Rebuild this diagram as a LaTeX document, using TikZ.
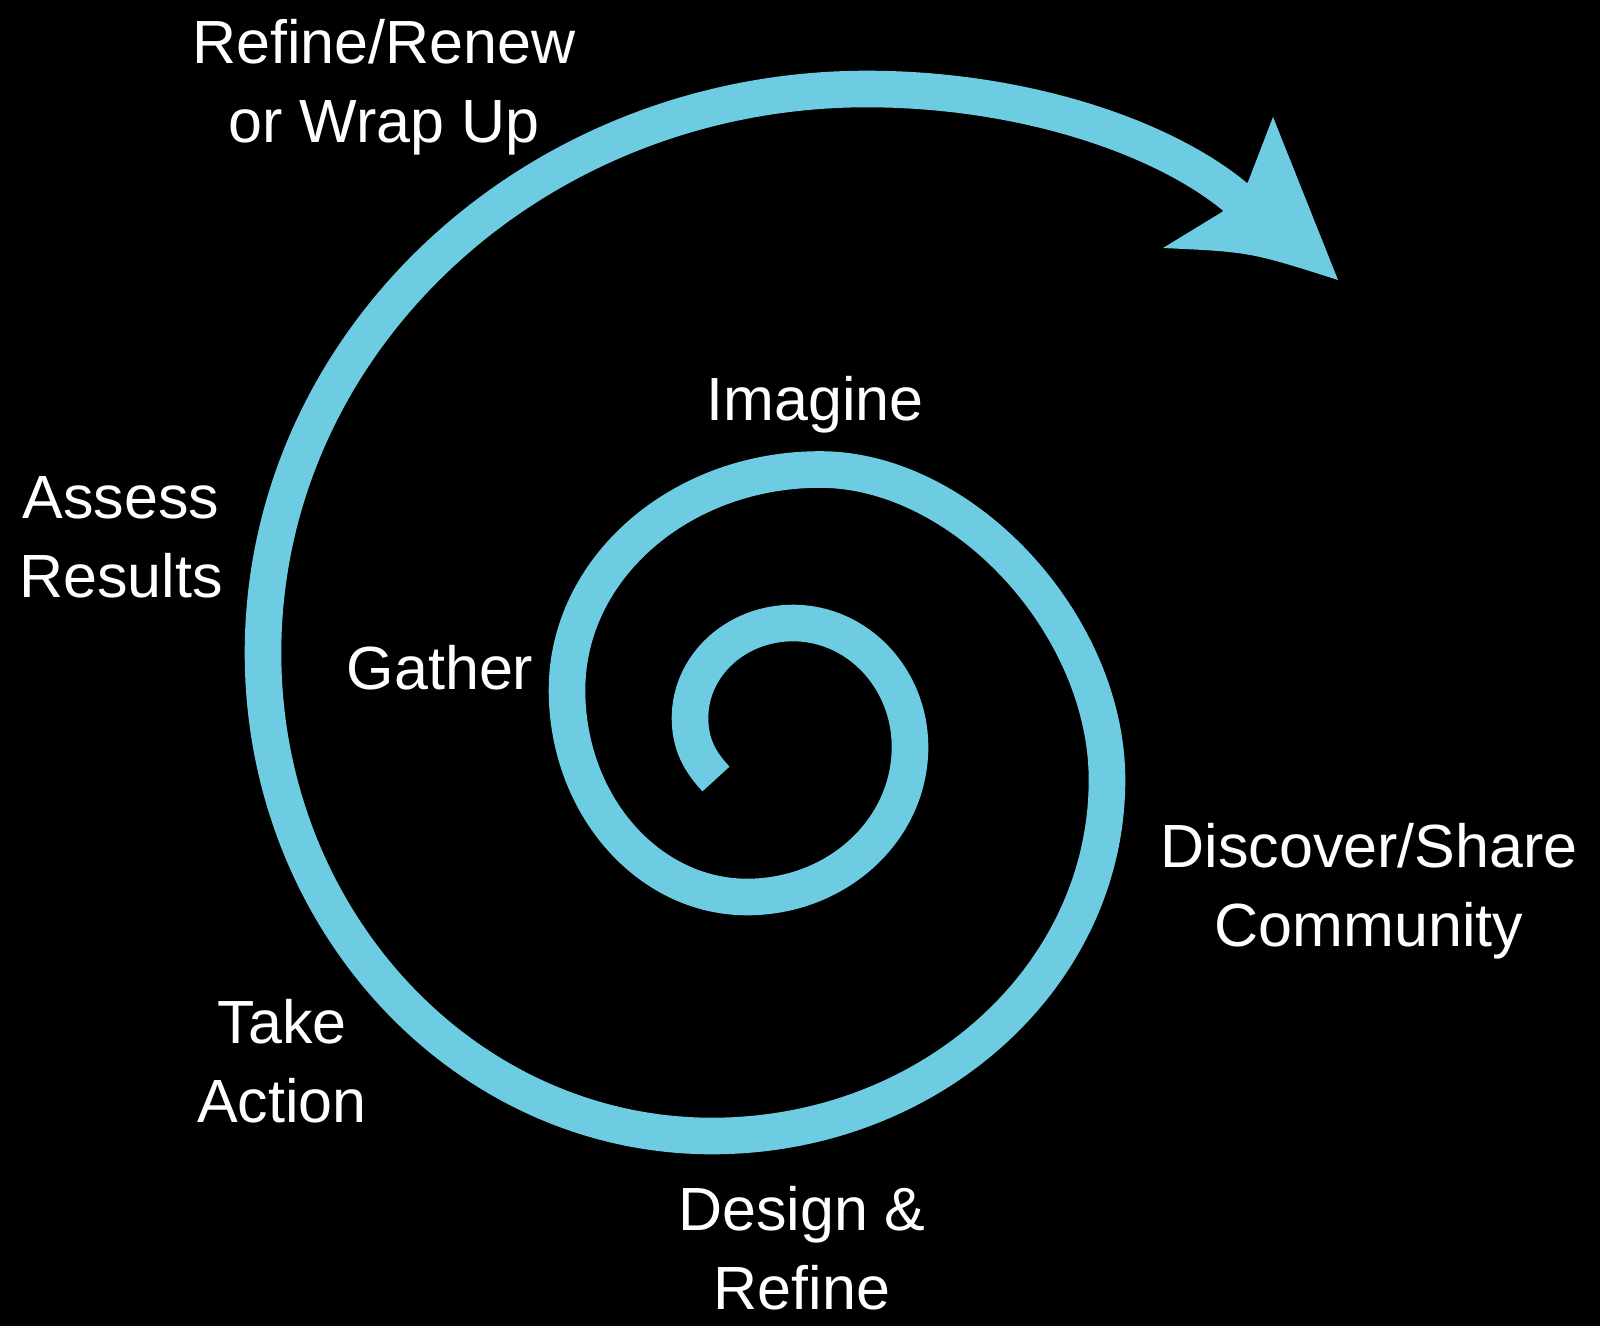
\documentclass[tikz,border=0pt]{standalone}
\usepackage{fontspec}
\setmainfont{Liberation Sans}
\definecolor{spiralblue}{RGB}{110,204,226}
\begin{document}
\begin{tikzpicture}[x=0.5pt,y=-0.5pt,
  stagelabel/.style={text=white, font=\fontsize{30.5}{39.5}\selectfont,
    align=center, inner sep=0pt, anchor=base},
  band/.style={draw=spiralblue, line width=18.3pt, line cap=butt, line join=round}]
% backdrop
\fill[black] (0,0) rectangle (1600,1326);
\useasboundingbox (0,0) rectangle (1600,1326);

% spiral, from the inner end outwards (clockwise)
\coordinate (s0) at (716,779);
\coordinate (l1) at (690,718);
\coordinate (t1) at (793,623);
\coordinate (r1) at (910,747);
\coordinate (b1) at (747,897);
\coordinate (l2) at (567,690);
\coordinate (t2) at (820,469.5);
\coordinate (r2) at (1107,780);
\coordinate (b2) at (712,1136);
\coordinate (l3) at (263,653);
\coordinate (t3) at (867,89);
\coordinate (e)  at (1240,201);
\draw[band] (s0) .. controls (699,761) and (690,743) .. (l1)
  .. controls (690,665.5) and (736,623) .. (t1)
  .. controls (857.6,623) and (910,678.5) .. (r1)
  .. controls (910,830) and (837,897) .. (b1)
  .. controls (648,897) and (567,804.6) .. (l2)
  .. controls (567,568.2) and (680.3,469.5) .. (t2)
  .. controls (963.5,469.5) and (1107,624.8) .. (r2)
  .. controls (1107,976.6) and (930.2,1136) .. (b2)
  .. controls (464,1136) and (263,919.8) .. (l3)
  .. controls (263,341.5) and (533.4,89) .. (t3)
  .. controls (1020,89) and (1165,136) .. (e);

% arrowhead
\coordinate (hn1) at (1248,182);
\coordinate (htop) at (1273,117);
\coordinate (htip) at (1338,280);
\coordinate (hleft) at (1163,248);
\coordinate (hn2) at (1222,212);
\fill[spiralblue] (hn1) -- (htop) -- (htip) .. controls (1250,252) .. (hleft) -- (hn2) -- cycle;

% stage labels (anchored on the baseline of their last line)
\node[stagelabel] (refine)   at (384,143)  {Refine/Renew\\or Wrap Up};
\node[stagelabel] (imagine)  at (815,421)  {Imagine};
\node[stagelabel] (assess)   at (121,597)  {Assess\\Results};
\node[stagelabel] (gather)   at (440,689)  {Gather};
\node[stagelabel] (discover) at (1369,946) {Discover/Share\\Community};
\node[stagelabel] (take)     at (282,1122) {Take\\Action};
\node[stagelabel] (design)   at (802,1309) {Design \&\\Refine};
\end{tikzpicture}
\end{document}
